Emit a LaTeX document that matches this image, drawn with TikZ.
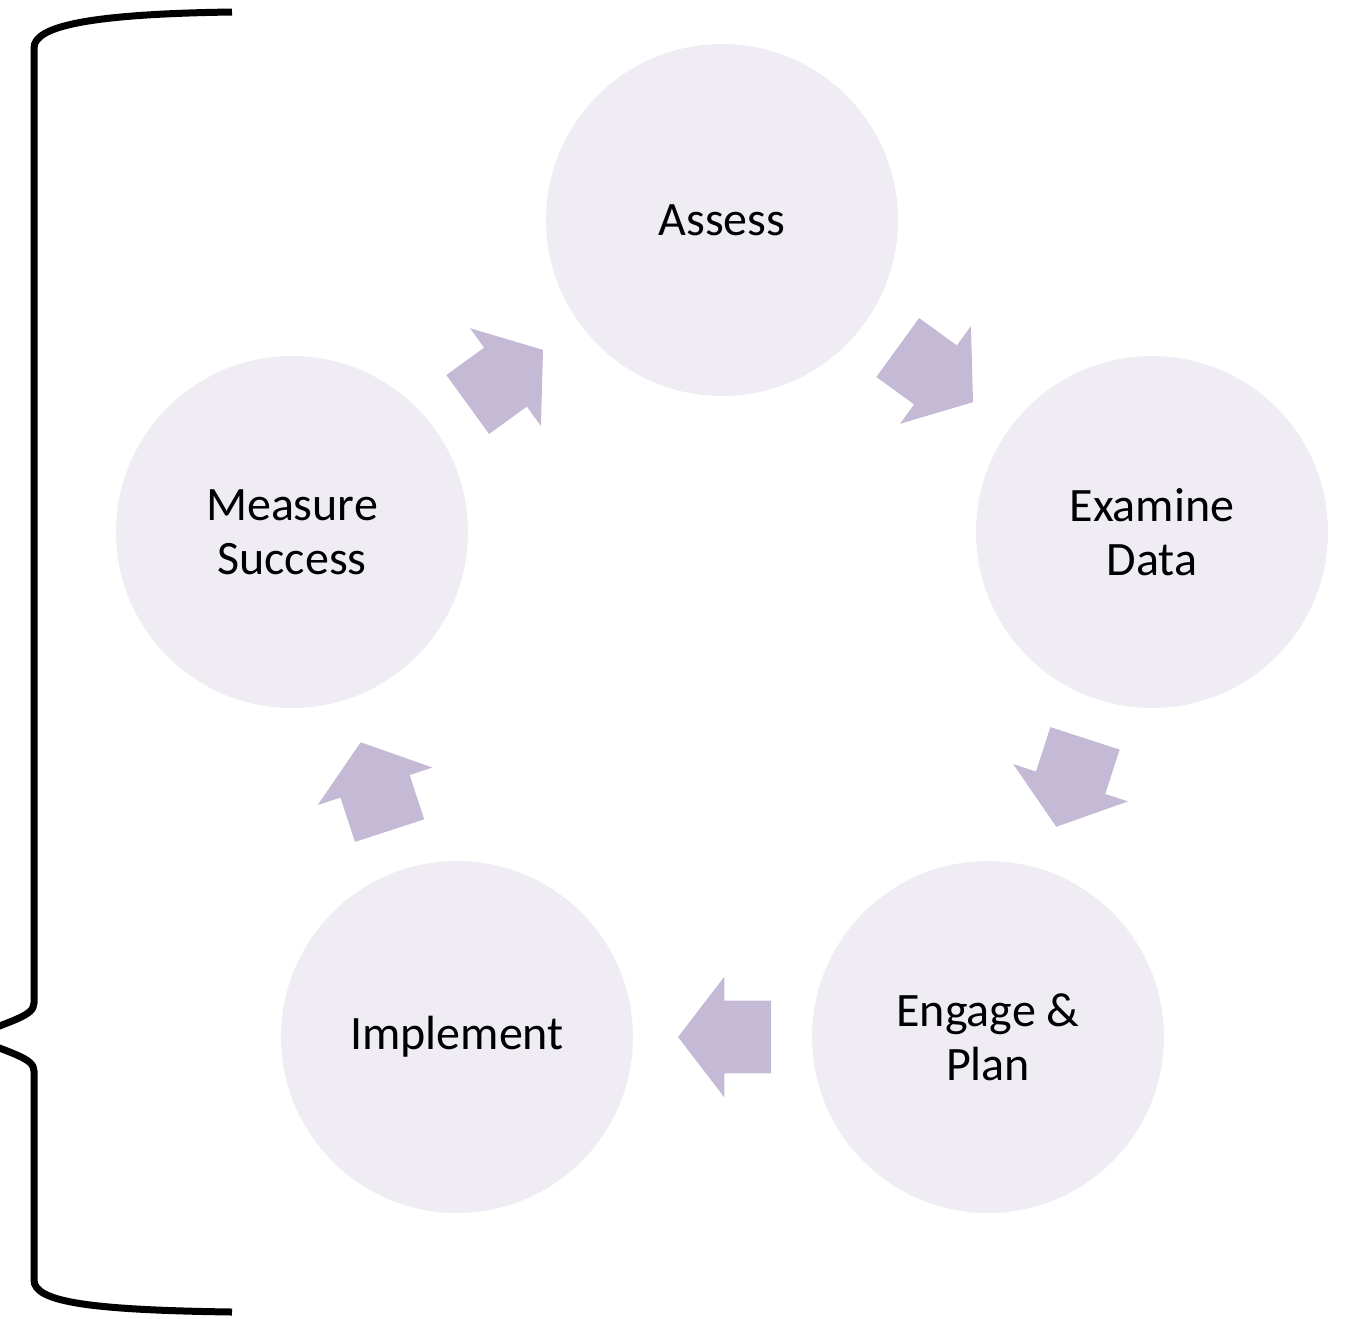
\documentclass[tikz,border=0pt]{standalone}
\usepackage{fontspec}
\setmainfont{Carlito}
\usetikzlibrary{calc,shapes.arrows}
\definecolor{stagefill}{RGB}{239,237,243}
\definecolor{flowfill}{RGB}{196,186,214}
\tikzset{
	stage/.style={circle, fill=stagefill, minimum size=176pt, inner sep=0pt, align=center, font=\fontsize{24}{27}\selectfont},
	flow/.style={single arrow, fill=flowfill, minimum height=46.5pt, minimum width=60pt, single arrow head extend=12pt, single arrow tip angle=105, inner xsep=0pt, inner ysep=18pt},
}
\newcommand\flowarrow[3]{\path let \p1=($(#2)-(#1)$), \n1={atan2(\y1,\x1)}, \p2=($(#1)!0.5!(#2)$) in node[flow, rotate=\n1] (#3) at ($(\p2)!-8pt!(#2)$) {};}

\begin{document}
\begin{tikzpicture}[x=0.5pt, y=-0.5pt]
			%%%%% START %%%%%
			\clip (0, 0) rectangle (1347, 1318);
			
			\node[stage] (assess) at (722, 220) {Assess};
			\node[stage] (examine) at (1152, 532) {Examine\\Data};
			\node[stage] (engage) at (988, 1037) {Engage \&\\Plan};
			\node[stage] (implement) at (457, 1037) {Implement};
			\node[stage] (measure) at (292, 532) {Measure\\Success};
			
			\flowarrow{assess}{examine}{a1}
			\flowarrow{examine}{engage}{a2}
			\flowarrow{engage}{implement}{a3}
			\flowarrow{implement}{measure}{a4}
			\flowarrow{measure}{assess}{a5}
			
			\draw[line width=3.5pt] (232, 12) .. controls (90, 14) and (34, 26) .. (34, 48) -- (34, 1003)
				.. controls (34, 1016) and (12, 1020) .. (-28, 1037)
				.. controls (12, 1054) and (34, 1058) .. (34, 1071) -- (34, 1280)
				.. controls (34, 1302) and (90, 1310) .. (232, 1312);
			
			%%%%% END %%%%%
\end{tikzpicture}
\end{document}
